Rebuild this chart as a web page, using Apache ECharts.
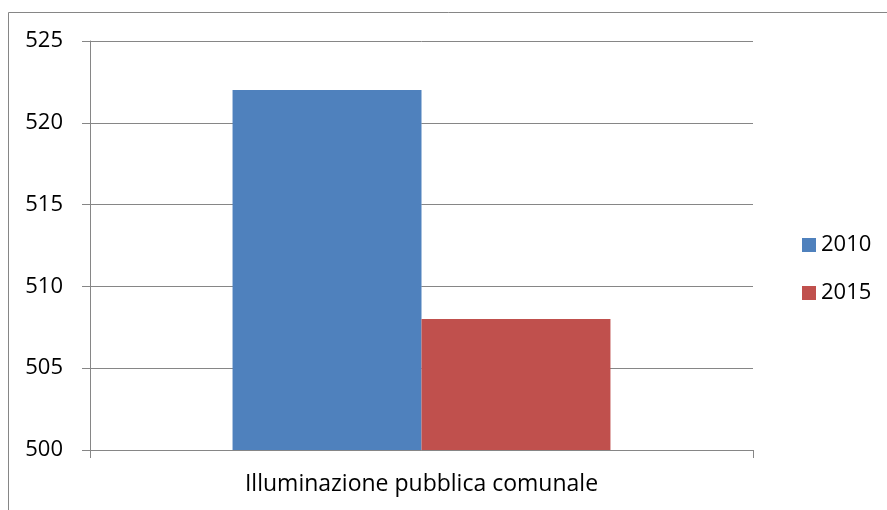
<!DOCTYPE html>
<html>
<head>
<meta charset="utf-8">
<script src="https://cdn.jsdelivr.net/npm/echarts@6/dist/echarts.min.js"></script>
<style>
  html, body { margin: 0; padding: 0; background: #fff; }
  #chart { width: 887px; height: 510px; }
</style>
</head>
<body>
<div id="chart"></div>
<script>
// dati
var categories = ['Illuminazione pubblica comunale'];
var serie2010 = [522];
var serie2015 = [508];
var yTicks = [500, 505, 510, 515, 520, 525];

var grigio = '#868686';
var font = 'Open Sans';

var chart = echarts.init(document.getElementById('chart'));

var option = {
  backgroundColor: '#fff',
  animation: false,
  textStyle: { fontFamily: font },
  graphic: [
    {
      // cornice esterna del grafico
      type: 'rect',
      shape: { x: 8.5, y: 12.5, width: 950, height: 600 },
      style: { fill: 'none', stroke: grigio, lineWidth: 1 },
      silent: true
    }
  ],
  grid: { left: 90, right: 134, top: 41, bottom: 60 },
  legend: {
    orient: 'vertical',
    left: 797,
    top: 228,
    itemWidth: 14,
    itemHeight: 14,
    itemGap: 24,
    icon: 'rect',
    textStyle: { fontFamily: font, fontSize: 22, color: '#000', lineHeight: 24 },
    data: ['2010', '2015']
  },
  xAxis: {
    type: 'category',
    data: categories,
    axisLine: { lineStyle: { color: grigio, width: 1 } },
    axisTick: { show: true, length: 8, lineStyle: { color: grigio } },
    axisLabel: { fontFamily: font, fontSize: 23, color: '#000', margin: 23 }
  },
  yAxis: {
    type: 'value',
    min: yTicks[0],
    max: yTicks[yTicks.length - 1],
    interval: 5,
    axisLine: { show: true, lineStyle: { color: grigio, width: 1 } },
    axisTick: { show: true, length: 8, lineStyle: { color: grigio } },
    splitLine: { show: true, lineStyle: { color: grigio, width: 1 } },
    axisLabel: { fontFamily: font, fontSize: 22, color: '#000', margin: 27 }
  },
  series: [
    {
      name: '2010',
      type: 'bar',
      data: serie2010,
      itemStyle: { color: '#4F81BD' },
      barGap: '0%',
      barCategoryGap: '43%'
    },
    {
      name: '2015',
      type: 'bar',
      data: serie2015,
      itemStyle: { color: '#C0504D' },
      barGap: '0%',
      barCategoryGap: '43%'
    }
  ]
};

chart.setOption(option);
</script>
</body>
</html>
